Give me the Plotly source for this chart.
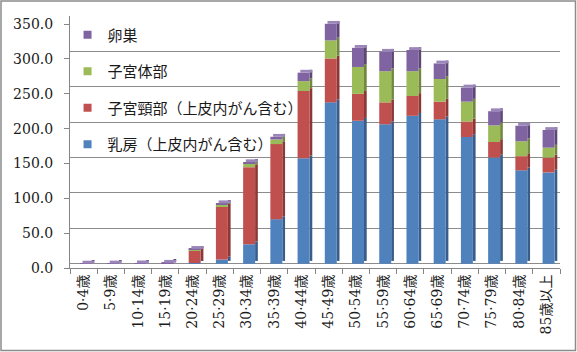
import numpy as np
import plotly.graph_objects as go

categories = ['0·4歳', '5·9歳', '10·14歳', '15·19歳', '20·24歳', '25·29歳', '30·34歳',
              '35·39歳', '40·44歳', '45·49歳', '50·54歳', '55·59歳', '60·64歳',
              '65·69歳', '70·74歳', '75·79歳', '80·84歳', '85歳以上']
breast = [0, 0, 0, 0, 1, 6, 27.5, 63, 149, 228, 202, 197, 209, 204, 179, 150, 132, 129]
cervix = [0, 0, 0, 0.2, 18, 75, 109, 106, 95, 62, 38, 31, 28, 25, 22, 22, 20, 21]
uterus = [0, 0, 0, 0, 0.5, 2.5, 4.7, 6.6, 14, 25.5, 38, 44, 35, 32, 28, 23.5, 21, 14]
ovary = [0.3, 0.4, 0.6, 1.2, 1.5, 2, 2.3, 3.8, 12, 23.5, 27, 27.5, 30, 22, 20, 20, 22, 25]

series_names = ['乳房（上皮内がん含む）', '子宮頸部（上皮内がん含む）', '子宮体部', '卵巣']
series_vals = [breast, cervix, uterus, ovary]
colors = ['#4F81BD', '#C0504D', '#9BBB59', '#8064A2']
side_colors = ['#385D8A', '#8C3836', '#71893F', '#5C4776']
y_ticks = [0, 50, 100, 150, 200, 250, 300, 350]

L, R, T, B = 70, 17, 16, 84
pw, ph = 577 - L - R, 352 - T - B
Y_RANGE = [-6, 350]          # back wall scale (bars + gridlines)
FRONT_SPAN = 361.6           # front axis (labels) spans the same height for this many units


def front_pos(t):
    """Position (in back-wall units) of the front-axis tick for value t."""
    return Y_RANGE[0] + t / FRONT_SPAN * (Y_RANGE[1] - Y_RANGE[0])


fig = go.Figure()
base = np.zeros(len(categories))
W, OFF = 0.44, -0.14
SH = 4.0
for i, (name, vals) in enumerate(zip(series_names, series_vals)):
    v = np.array(vals, dtype=float)
    fig.add_trace(go.Bar(x=categories, y=v, base=base + SH, width=0.1, offset=OFF + W,
                         marker=dict(color=side_colors[i], line=dict(width=0)),
                         showlegend=False, hoverinfo='skip'))
    fig.add_trace(go.Bar(x=categories, y=v, base=base.copy(), name=name, width=W, offset=OFF,
                         marker=dict(color=colors[i], line=dict(width=0)),
                         showlegend=False))
    base = base + v

fig.add_trace(go.Bar(x=categories, y=[SH] * len(categories), base=base, width=W, offset=OFF + 0.1,
                     marker=dict(color='#9B86B9', line=dict(width=0)),
                     showlegend=False, hoverinfo='skip'))

for i, name in enumerate(series_names):
    fig.add_trace(go.Scatter(x=[None], y=[None], mode='markers', name=name,
                             marker=dict(symbol='square', size=8, color=colors[i]),
                             legendgroup=name, legendrank=100 - i))

fig.add_shape(type='rect', xref='paper', yref='paper',
              x0=-(L - 1) / pw, x1=1 + (R - 1.5) / pw,
              y0=-(B - 1.5) / ph, y1=1 + (T - 1) / ph,
              line=dict(color='#8C8C8C', width=1.5), fillcolor='rgba(0,0,0,0)')

fig.update_layout(
    width=577, height=352,
    margin=dict(l=L, r=R, t=T, b=B),
    barmode='overlay',
    plot_bgcolor='white', paper_bgcolor='white',
    showlegend=True,
    legend=dict(x=-0.005, y=0.99, xanchor='left', yanchor='top',
                bgcolor='rgba(0,0,0,0)', tracegroupgap=14,
                font=dict(family='Noto Sans CJK JP', size=15, color='#1a1a1a'),
                itemwidth=30),
    font=dict(family='DejaVu Serif, Noto Sans CJK JP', size=14, color='#1a1a1a'),
    yaxis=dict(range=Y_RANGE, tickvals=[front_pos(t) for t in y_ticks],
               ticktext=[f'{v:.1f}' for v in y_ticks],
               showline=True, linecolor='#868686', linewidth=1,
               ticks='outside', ticklen=5, tickcolor='#868686',
               showgrid=False, zeroline=False, ticklabelstandoff=8,
               tickfont=dict(family='DejaVu Serif', size=14, color='#1a1a1a'),
               minor=dict(tickvals=y_ticks, showgrid=True, gridcolor='#8C8C8C',
                          gridwidth=1, ticks='')),
)
fig.update_xaxes(type='category', categoryorder='array', categoryarray=categories,
                 range=[-0.5, len(categories) - 0.5],
                 tickangle=-90, showline=True, linecolor='#868686', linewidth=1,
                 ticks='outside', ticklen=5, tickcolor='#868686', tickson='boundaries',
                 showgrid=False, tickfont=dict(family='DejaVu Serif, Noto Sans CJK JP', size=14,
                                               color='#1a1a1a'))

fig.write_html('out.html')
